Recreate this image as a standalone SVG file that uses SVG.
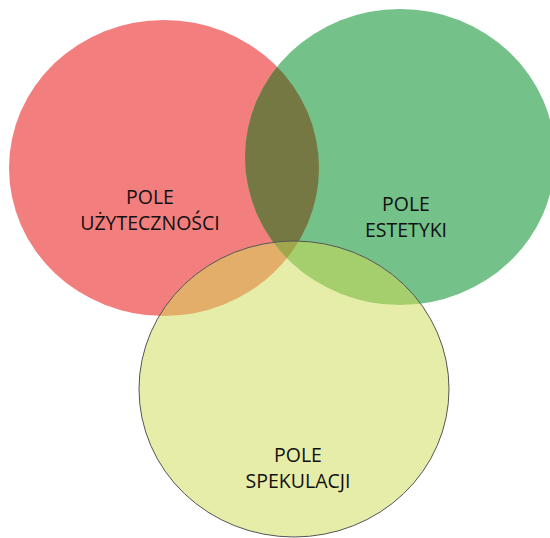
<svg xmlns="http://www.w3.org/2000/svg" xmlns:xlink="http://www.w3.org/1999/xlink" width="550" height="538" viewBox="0 0 550 538">
  <style>
    .lbl { font-family: "Open Sans", "Liberation Sans", sans-serif; font-size: 19.5px; fill: #111111; text-anchor: middle; }
  </style>
  <defs>
    <ellipse id="shapeRed" cx="164" cy="168" rx="155" ry="148"/>
    <ellipse id="shapeGreen" cx="400" cy="157" rx="155" ry="148"/>
    <ellipse id="shapeYellow" cx="294" cy="389" rx="155" ry="148"/>
    <clipPath id="clipRed"><use href="#shapeRed"/></clipPath>
    <clipPath id="clipGreen"><use href="#shapeGreen"/></clipPath>
    <clipPath id="clipYellow"><use href="#shapeYellow"/></clipPath>
  </defs>
  <rect width="550" height="538" fill="#ffffff"/>

  <g id="node-uzytecznosc">
    <use href="#shapeRed" fill="#F37E7E"/>
  </g>
  <g id="node-estetyka">
    <use href="#shapeGreen" fill="#74C189"/>
  </g>
  <g id="node-spekulacja">
    <use href="#shapeYellow" fill="#E6EDA9"/>
  </g>

  <g id="overlaps">
    <g clip-path="url(#clipRed)"><use href="#shapeGreen" fill="#767844"/></g>
    <g clip-path="url(#clipRed)"><use href="#shapeYellow" fill="#E2AE6A"/></g>
    <g clip-path="url(#clipGreen)"><use href="#shapeYellow" fill="#A5CF6D"/></g>
    <g clip-path="url(#clipRed)"><g clip-path="url(#clipGreen)"><use href="#shapeYellow" fill="#A1A54B"/></g></g>
  </g>

  <g id="outline-spekulacja">
    <use href="#shapeYellow" fill="none" stroke="#555555" stroke-width="1"/>
  </g>

  <g id="labels">
    <text class="lbl" x="150" y="204">POLE</text>
    <text class="lbl" x="150" y="230">UŻYTECZNOŚCI</text>
    <text class="lbl" x="406" y="211">POLE</text>
    <text class="lbl" x="406" y="237">ESTETYKI</text>
    <text class="lbl" x="298" y="462">POLE</text>
    <text class="lbl" x="298" y="488">SPEKULACJI</text>
  </g>
</svg>
